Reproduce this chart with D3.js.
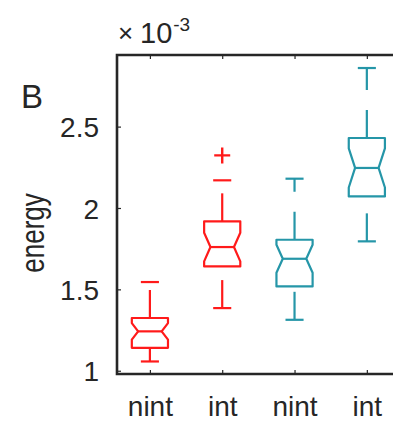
<!DOCTYPE html>
<html>
<head>
<meta charset="utf-8">
<script src="https://cdn.jsdelivr.net/npm/d3@7/dist/d3.min.js"></script>
<style>
  html, body { margin: 0; padding: 0; background: #fff; }
  svg { display: block; }
  text { font-family: Arial, "Liberation Sans", Helvetica, sans-serif; fill: #262626; }
</style>
</head>
<body>
<div id="chart"></div>
<script>
// Box statistics per group (energy, units of 1e-3)
const categories   = ["nint", "int", "nint", "int"];
const upperWhisker = [1.545, 2.170, 2.180, 2.860];
const q3Values     = [1.324, 1.918, 1.805, 2.430];
const medians      = [1.242, 1.760, 1.688, 2.246];
const q1Values     = [1.141, 1.641, 1.518, 2.071];
const lowerWhisker = [1.057, 1.385, 1.313, 1.795];
const notchHalf    = [0.051, 0.088, 0.086, 0.120];
const outliers     = [[], [2.323], [], []];
const yTickValues  = [1, 1.5, 2, 2.5];
const yTickLabels  = ["1", "1.5", "2", "2.5"];

// Styling
const groupColors = ["#ff1a1a", "#ff1a1a", "#2596a8", "#2596a8"];
const axisColor = "#262626";

const W = 393, H = 422;
const svg = d3.select("#chart").append("svg")
  .attr("width", W).attr("height", H);

const x = d3.scaleLinear().domain([0.545, 4.5]).range([117, 403]);
const y = d3.scaleLinear().domain([0.98, 2.94]).range([374, 55]);

const boxHalf = 0.25;       // half box width, in category units
const capHalf = 0.125;      // half whisker cap width
const waist = 0.65;         // notch waist relative to box half width

const plot = svg.append("g");

const data = categories.map((c, i) => ({
  i, pos: i + 1, c,
  hi: upperWhisker[i], q3: q3Values[i], med: medians[i], q1: q1Values[i], lo: lowerWhisker[i],
  notch: notchHalf[i], out: outliers[i], color: groupColors[i]
}));

const groups = plot.selectAll("g.box").data(data).enter().append("g").attr("class", "box");

// dashed whiskers, drawn from the low end upward
groups.append("line")
  .attr("x1", d => x(d.pos)).attr("x2", d => x(d.pos))
  .attr("y1", d => y(d.q3)).attr("y2", d => y(d.hi))
  .attr("stroke", d => d.color).attr("stroke-width", 2.2)
  .attr("stroke-dasharray", "28,20");
groups.append("line")
  .attr("x1", d => x(d.pos)).attr("x2", d => x(d.pos))
  .attr("y1", d => y(d.lo)).attr("y2", d => y(d.q1))
  .attr("stroke", d => d.color).attr("stroke-width", 2.2)
  .attr("stroke-dasharray", "28,20");

// whisker caps
["hi", "lo"].forEach(k => {
  groups.append("line")
    .attr("x1", d => x(d.pos - capHalf)).attr("x2", d => x(d.pos + capHalf))
    .attr("y1", d => y(d[k])).attr("y2", d => y(d[k]))
    .attr("stroke", d => d.color).attr("stroke-width", 2.2);
});

// notched box outline
groups.append("path")
  .attr("fill", "#fff")
  .attr("stroke", d => d.color).attr("stroke-width", 2.2)
  .attr("stroke-linejoin", "round")
  .attr("d", d => {
    const l = x(d.pos - boxHalf), r = x(d.pos + boxHalf);
    const wl = x(d.pos - boxHalf * waist), wr = x(d.pos + boxHalf * waist);
    const p = d3.path();
    p.moveTo(l, y(d.q1));
    p.lineTo(l, y(d.med - d.notch));
    p.lineTo(wl, y(d.med));
    p.lineTo(l, y(d.med + d.notch));
    p.lineTo(l, y(d.q3));
    p.lineTo(r, y(d.q3));
    p.lineTo(r, y(d.med + d.notch));
    p.lineTo(wr, y(d.med));
    p.lineTo(r, y(d.med - d.notch));
    p.lineTo(r, y(d.q1));
    p.closePath();
    return p.toString();
  });

// median line across the notch waist
groups.append("line")
  .attr("x1", d => x(d.pos - boxHalf * waist)).attr("x2", d => x(d.pos + boxHalf * waist))
  .attr("y1", d => y(d.med)).attr("y2", d => y(d.med))
  .attr("stroke", d => d.color).attr("stroke-width", 2.2);

// outliers as '+' markers
groups.each(function (d) {
  d3.select(this).selectAll("path.out").data(d.out).enter().append("path")
    .attr("class", "out")
    .attr("d", v => {
      const cx = x(d.pos), cy = y(v), s = 8;
      return `M${cx - s},${cy}H${cx + s}M${cx},${cy - s}V${cy + s}`;
    })
    .attr("stroke", d.color).attr("stroke-width", 2.4).attr("fill", "none");
});

// axes box with inward ticks
const [x0, x1] = x.range();
const [yb, yt] = y.range();
const axes = svg.append("g");
axes.append("path")
  .attr("d", `M${x1},${yt}H${x0}V${yb}H${x1}`)
  .attr("fill", "none").attr("stroke", axisColor).attr("stroke-width", 2.6);

const xAxis = d3.axisBottom(x).tickValues([1, 2, 3, 4])
  .tickFormat((d, i) => categories[i]).tickSizeInner(-4).tickSizeOuter(0).tickPadding(22);
const gx = svg.append("g").attr("transform", `translate(0,${yb})`).call(xAxis);
gx.select(".domain").remove();
gx.selectAll("line").attr("stroke", axisColor).attr("stroke-width", 1.2);
gx.selectAll("text").attr("font-size", 28).attr("fill", axisColor).attr("dy", "0.72em");

const xTop = d3.axisTop(x).tickValues([1, 2, 3, 4]).tickFormat("").tickSizeInner(-4).tickSizeOuter(0);
const gxt = svg.append("g").attr("transform", `translate(0,${yt})`).call(xTop);
gxt.select(".domain").remove();
gxt.selectAll("line").attr("stroke", axisColor).attr("stroke-width", 1.2);

const yAxis = d3.axisLeft(y).tickValues(yTickValues)
  .tickFormat((d, i) => yTickLabels[i]).tickSizeInner(-4).tickSizeOuter(0).tickPadding(18);
const gy = svg.append("g").attr("transform", `translate(${x0},0)`).call(yAxis);
gy.select(".domain").remove();
gy.selectAll("line").attr("stroke", axisColor).attr("stroke-width", 1.2);
gy.selectAll("text").attr("font-size", 28).attr("fill", axisColor).attr("dy", "0.36em");

// exponent label above the y axis
svg.append("text").attr("x", 118).attr("y", 42).attr("font-size", 26)
  .attr("fill", "#555").text("×");
const ex = svg.append("text").attr("x", 140).attr("y", 43).attr("font-size", 29);
ex.append("tspan").text("10");
ex.append("tspan").attr("font-size", 19).attr("dy", -12).attr("dx", 1).text("-3");

// y label, glyphs drawn a little taller than wide
svg.append("text")
  .attr("transform", "translate(44,233) rotate(-90) scale(1,1.3)")
  .attr("text-anchor", "middle")
  .attr("font-size", 26)
  .text("energy");

// panel letter
svg.append("text").attr("x", 21).attr("y", 108).attr("font-size", 33).text("B");
</script>
</body>
</html>
